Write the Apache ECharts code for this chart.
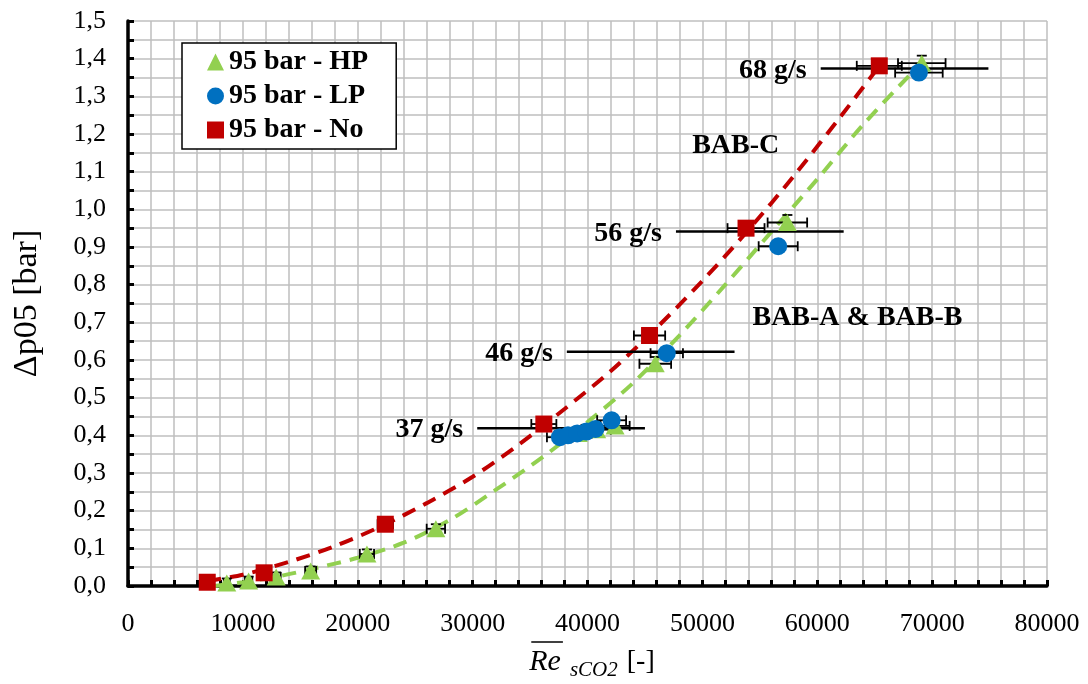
<!DOCTYPE html>
<html>
<head>
<meta charset="utf-8">
<script src="https://cdn.jsdelivr.net/npm/echarts@6/dist/echarts.min.js"></script>
<style>
  html, body { margin: 0; padding: 0; background: #fff; }
  #chart { width: 1088px; height: 684px; }
</style>
</head>
<body>
<div id="chart"></div>
<script>
// Mean Reynolds number, pressure drop and x/y uncertainty per operating point
const hpRe    = [8600, 10500, 12900, 15900, 20800, 26800, 39200, 40800, 42400, 45900, 57400, 69100];
const hpDp    = [0.008, 0.013, 0.024, 0.040, 0.085, 0.152, 0.405, 0.415, 0.425, 0.590, 0.965, 1.388];
const hpReErr = [260, 320, 390, 480, 620, 800, 1180, 1220, 1270, 1380, 1720, 2070];
const hpDpErr = [0.012, 0.012, 0.012, 0.012, 0.012, 0.012, 0.015, 0.015, 0.015, 0.018, 0.02, 0.02];

const lpRe    = [37600, 38300, 39100, 39900, 40700, 42100, 46900, 56600, 68850];
const lpDp    = [0.395, 0.400, 0.405, 0.410, 0.417, 0.440, 0.618, 0.902, 1.363];
const lpReErr = [1130, 1150, 1170, 1200, 1220, 1260, 1410, 1700, 2070];

const noRe    = [6900, 11850, 22400, 36200, 45400, 53800, 65400];
const noDp    = [0.010, 0.035, 0.164, 0.430, 0.665, 0.950, 1.381];
const noReErr = [210, 360, 670, 1090, 1360, 1610, 1960];

// Dashed trend curves (BAB-C for "No", BAB-A & BAB-B for HP)
const noTrendRe = [6900, 10000, 14000, 18000, 22000, 26000, 30000, 34000, 38000, 42000, 46000, 50000, 54000, 58000, 62000, 65400];
const noTrendDp = [0.013, 0.030, 0.064, 0.106, 0.158, 0.220, 0.290, 0.375, 0.470, 0.570, 0.685, 0.810, 0.945, 1.090, 1.245, 1.380];
const hpTrendRe = [7500, 10000, 13000, 16000, 20000, 24000, 28000, 32000, 36000, 40000, 44000, 48000, 52000, 56000, 60000, 64000, 69100];
const hpTrendDp = [0.000, 0.010, 0.025, 0.045, 0.075, 0.115, 0.175, 0.255, 0.340, 0.435, 0.540, 0.665, 0.800, 0.940, 1.080, 1.225, 1.390];

// Mass-flow groups: Re range bar and label
const flowLabels = ['37 g/s', '46 g/s', '56 g/s', '68 g/s'];
const flowDp     = [0.419, 0.622, 0.941, 1.374];
const flowReMin  = [30400, 38200, 47700, 60300];
const flowReMax  = [45000, 52800, 62300, 74900];

// Region annotations
const regionLabels = ['BAB-C', 'BAB-A & BAB-B'];
const regionRe     = [52900, 63500];
const regionDp     = [1.168, 0.711];

const seriesNames = ['95 bar - HP', '95 bar - LP', '95 bar - No'];
const colors = { hp: '#92D050', lp: '#0070C0', no: '#C00000' };
const serif = '"Liberation Serif", "Times New Roman", serif';

const zip = (a, b, c, d) => a.map((v, i) => [v, b[i]].concat(c ? [c[i]] : []).concat(d ? [d[i]] : []));

function errorBarItem(params, api) {
  const x = api.value(0), y = api.value(1), ex = api.value(2), ey = api.value(3) || 0;
  const l = api.coord([x - ex, y]), r = api.coord([x + ex, y]);
  const cap = 5;
  const style = { stroke: '#000', lineWidth: 1.8 };
  const children = [
    { type: 'line', shape: { x1: l[0], y1: l[1], x2: r[0], y2: r[1] }, style },
    { type: 'line', shape: { x1: l[0], y1: l[1] - cap, x2: l[0], y2: l[1] + cap }, style },
    { type: 'line', shape: { x1: r[0], y1: r[1] - cap, x2: r[0], y2: r[1] + cap }, style }
  ];
  if (ey > 0) {
    const t = api.coord([x, y + ey]), b = api.coord([x, y - ey]);
    children.push(
      { type: 'line', shape: { x1: t[0], y1: t[1], x2: b[0], y2: b[1] }, style },
      { type: 'line', shape: { x1: t[0] - cap, y1: t[1], x2: t[0] + cap, y2: t[1] }, style },
      { type: 'line', shape: { x1: b[0] - cap, y1: b[1], x2: b[0] + cap, y2: b[1] }, style }
    );
  }
  return { type: 'group', children };
}

function flowItem(params, api) {
  const i = params.dataIndex;
  const l = api.coord([api.value(0), api.value(2)]);
  const r = api.coord([api.value(1), api.value(2)]);
  return {
    type: 'group',
    children: [
      { type: 'line', shape: { x1: l[0], y1: l[1], x2: r[0], y2: r[1] }, style: { stroke: '#000', lineWidth: 2.5 } },
      { type: 'text', x: l[0] - 14, y: l[1] + 2,
        style: { text: flowLabels[i], font: 'bold 28px ' + serif, fill: '#000', align: 'right', verticalAlign: 'middle' } }
    ]
  };
}

function regionItem(params, api) {
  const p = api.coord([api.value(0), api.value(1)]);
  return { type: 'text', x: p[0], y: p[1],
    style: { text: regionLabels[params.dataIndex], font: 'bold 28px ' + serif, fill: '#000', align: 'center', verticalAlign: 'middle' } };
}

// x-axis title: overlined Re with subscript
const mctx = document.createElement('canvas').getContext('2d');
const textWidth = (font, s) => { mctx.font = font; return mctx.measureText(s).width; };
const fRe = 'italic 30px ' + serif, fSub = 'italic 21px ' + serif, fUnit = '28px ' + serif;
const wRe = textWidth(fRe, 'Re'), wSub = textWidth(fSub, 'sCO2'), wUnit = textWidth(fUnit, '[-]');
const tTotal = wRe + 9 + wSub + 9 + wUnit;
const tx0 = 592 - tTotal / 2, ty = 662;

const chart = echarts.init(document.getElementById('chart'));
chart.setOption({
  animation: false,
  backgroundColor: '#fff',
  grid: { left: 128, right: 41, top: 21, bottom: 98, containLabel: false },
  xAxis: {
    type: 'value', min: 0, max: 80000, interval: 10000,
    axisLine: { show: true, onZero: false, lineStyle: { color: '#000', width: 3.5 } },
    axisTick: { show: true, inside: true, length: 6, lineStyle: { color: '#000', width: 3 } },
    minorTick: { show: true, splitNumber: 5, length: 6, lineStyle: { color: '#000', width: 3 } },
    splitLine: { show: true, lineStyle: { color: '#BFBFBF', width: 1.5 } },
    minorSplitLine: { show: true, lineStyle: { color: '#BFBFBF', width: 1.5 } },
    axisLabel: { color: '#000', fontFamily: serif, fontSize: 26, margin: 25, formatter: v => String(v) }
  },
  yAxis: {
    type: 'value', min: 0, max: 1.5, interval: 0.1,
    name: 'Δp05 [bar]', nameLocation: 'middle', nameRotate: 90, nameGap: 84,
    nameTextStyle: { color: '#000', fontFamily: serif, fontSize: 34 },
    axisLine: { show: true, onZero: false, lineStyle: { color: '#000', width: 3.5 } },
    axisTick: { show: true, inside: true, length: 6, lineStyle: { color: '#000', width: 3 } },
    minorTick: { show: true, splitNumber: 2, length: 6, lineStyle: { color: '#000', width: 3 } },
    splitLine: { show: true, lineStyle: { color: '#BFBFBF', width: 1.5 } },
    minorSplitLine: { show: true, lineStyle: { color: '#BFBFBF', width: 1.5 } },
    axisLabel: { color: '#000', fontFamily: serif, fontSize: 26, margin: 22, formatter: v => v.toFixed(1).replace('.', ',') }
  },
  legend: {
    data: [
      { name: seriesNames[0], icon: 'triangle' },
      { name: seriesNames[1], icon: 'circle' },
      { name: seriesNames[2], icon: 'rect' }
    ],
    orient: 'vertical', left: 182, top: 43,
    padding: [5, 28, 5, 25], itemGap: 6, itemWidth: 17, itemHeight: 17,
    backgroundColor: '#fff', borderColor: '#000', borderWidth: 1.5, borderRadius: 0,
    textStyle: { color: '#000', fontFamily: serif, fontSize: 28, fontWeight: 'bold', lineHeight: 28 }
  },
  graphic: [
    { type: 'text', x: tx0, y: ty, z: 10,
      style: { text: 'Re', font: fRe, fill: '#000', align: 'left', verticalAlign: 'middle' } },
    { type: 'line', z: 10, shape: { x1: tx0 + 2, y1: ty - 20, x2: tx0 + wRe + 2, y2: ty - 20 },
      style: { stroke: '#000', lineWidth: 1.5 } },
    { type: 'text', x: tx0 + wRe + 9, y: ty + 8, z: 10,
      style: { text: 'sCO2', font: fSub, fill: '#000', align: 'left', verticalAlign: 'middle' } },
    { type: 'text', x: tx0 + wRe + 9 + wSub + 9, y: ty, z: 10,
      style: { text: '[-]', font: fUnit, fill: '#000', align: 'left', verticalAlign: 'middle' } }
  ],
  series: [
    { name: 'BAB-C trend', type: 'line', data: zip(noTrendRe, noTrendDp), smooth: 0.3, showSymbol: false, silent: true, z: 2,
      lineStyle: { color: colors.no, width: 4, type: [14, 9] } },
    { name: 'BAB-A & BAB-B trend', type: 'line', data: zip(hpTrendRe, hpTrendDp), smooth: 0.3, showSymbol: false, silent: true, z: 2,
      lineStyle: { color: colors.hp, width: 4, type: [14, 9] } },
    { name: 'mass flow', type: 'custom', renderItem: flowItem, silent: true, z: 3,
      data: flowReMin.map((v, i) => [v, flowReMax[i], flowDp[i]]), encode: { x: [0, 1], y: 2 } },
    { name: 'HP error', type: 'custom', renderItem: errorBarItem, silent: true, z: 3,
      data: zip(hpRe, hpDp, hpReErr, hpDpErr), encode: { x: 0, y: 1 } },
    { name: 'LP error', type: 'custom', renderItem: errorBarItem, silent: true, z: 3,
      data: zip(lpRe, lpDp, lpReErr), encode: { x: 0, y: 1 } },
    { name: 'No error', type: 'custom', renderItem: errorBarItem, silent: true, z: 3,
      data: zip(noRe, noDp, noReErr), encode: { x: 0, y: 1 } },
    { name: seriesNames[0], type: 'scatter', data: zip(hpRe, hpDp), symbol: 'triangle', symbolSize: [19, 17], z: 4,
      itemStyle: { color: colors.hp, opacity: 1 } },
    { name: seriesNames[1], type: 'scatter', data: zip(lpRe, lpDp), symbol: 'circle', symbolSize: 18, z: 5,
      itemStyle: { color: colors.lp, opacity: 1 } },
    { name: seriesNames[2], type: 'scatter', data: zip(noRe, noDp), symbol: 'rect', symbolSize: 17, z: 6,
      itemStyle: { color: colors.no, opacity: 1 } },
    { name: 'regions', type: 'custom', renderItem: regionItem, silent: true, z: 7,
      data: zip(regionRe, regionDp), encode: { x: 0, y: 1 } }
  ]
});
</script>
</body>
</html>
